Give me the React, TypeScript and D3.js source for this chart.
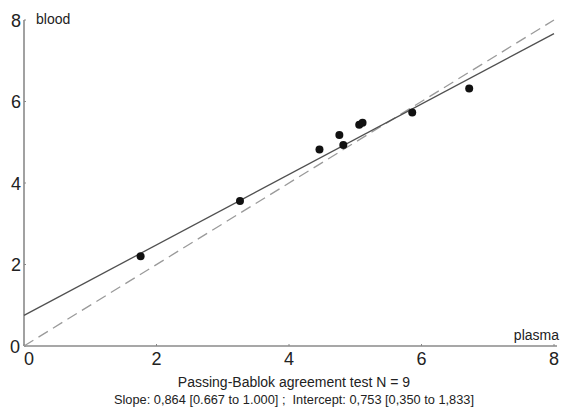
import React from "react";
import * as d3 from "d3";

const plasma = [1.76, 3.26, 4.46, 4.76, 4.82, 5.06, 5.11, 5.86, 6.72];
const blood = [2.2, 3.56, 4.82, 5.18, 4.93, 5.43, 5.48, 5.73, 6.32];
const slope = 0.864;
const intercept = 0.753;
const xTicks = [0, 2, 4, 6, 8];
const yTicks = [0, 2, 4, 6, 8];
const title = "Passing-Bablok agreement test N = 9";
const subtitle = "Slope: 0,864 [0.667 to 1.000] ;  Intercept: 0,753 [0,350 to 1,833]";
const xLabel = "plasma";
const yLabel = "blood";

const W = 563;
const H = 408;
const FONT = "'Liberation Sans', Arial, sans-serif";

export default function App() {
  const x = d3.scaleLinear().domain([0, 8]).range([24, 554]);
  const y = d3.scaleLinear().domain([0, 8]).range([346, 20]);
  const line = d3
    .line<[number, number]>()
    .x((d) => x(d[0]))
    .y((d) => y(d[1]));
  const regPts: [number, number][] = [0, 8].map((v) => [v, intercept + slope * v]);
  const idPts: [number, number][] = [0, 8].map((v) => [v, v]);

  return (
    <svg
      width={W}
      height={H}
      style={{ position: "absolute", left: 0, top: 0, background: "#fff" }}
      fontFamily={FONT}
    >
      <line x1={x(0)} x2={x(0)} y1={y(0)} y2={y(8)} stroke="#8a8a8a" strokeWidth={1.6} />
      <line x1={x(0)} x2={x(8) + 3} y1={y(0)} y2={y(0)} stroke="#8a8a8a" strokeWidth={1.6} />
      {yTicks.map((t) => (
        <g key={"y" + t}>
          <line x1={x(0)} x2={x(0) + 2} y1={y(t)} y2={y(t)} stroke="#888" strokeWidth={1} />
          <text x={t === 0 ? 20 : 21} y={y(t) + 6.5} textAnchor="end" fontSize={18} fill="#222">
            {t}
          </text>
        </g>
      ))}
      {xTicks.map((t) => (
        <g key={"x" + t}>
          <line x1={x(t)} x2={x(t)} y1={y(0)} y2={y(0) - 2} stroke="#888" strokeWidth={1} />
          <text x={t === 0 ? x(t) + 5 : x(t)} y={365} textAnchor="middle" fontSize={18} fill="#222">
            {t}
          </text>
        </g>
      ))}
      <text x={36} y={24} fontSize={14} fill="#222">
        {yLabel}
      </text>
      <text x={559} y={340} fontSize={14} fill="#222" textAnchor="end">
        {xLabel}
      </text>

      <path d={line(idPts) || ""} stroke="#9a9a9a" strokeWidth={1.3} strokeDasharray="11 6" fill="none" />
      <path d={line(regPts) || ""} stroke="#505050" strokeWidth={1.3} fill="none" />

      {plasma.map((v, i) => (
        <circle key={i} cx={x(v)} cy={y(blood[i])} r={4} fill="#111" />
      ))}

      <text x={294} y={387} textAnchor="middle" fontSize={14} fill="#222">
        {title}
      </text>
      <text
        x={294}
        y={404}
        textAnchor="middle"
        fontSize={12.8}
        fill="#222"
        style={{ whiteSpace: "pre" }}
      >
        {subtitle}
      </text>
    </svg>
  );
}
